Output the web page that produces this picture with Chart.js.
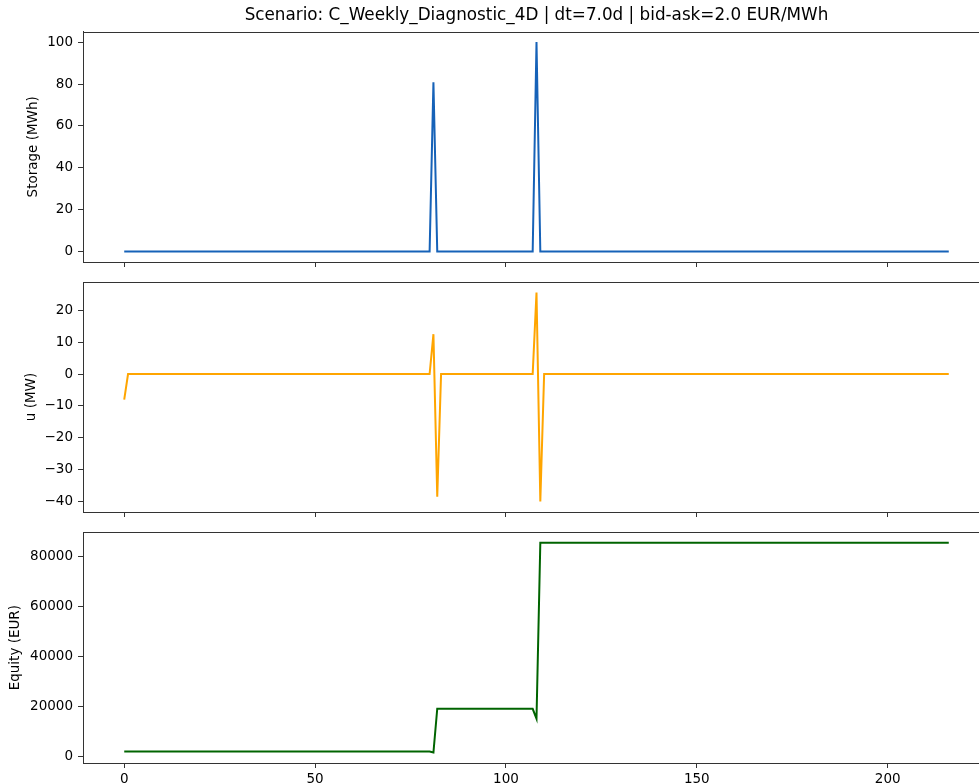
<!DOCTYPE html>
<html>
<head>
<meta charset="utf-8">
<script src="https://cdn.jsdelivr.net/npm/chart.js@4.4.0/dist/chart.umd.min.js"></script>
<style>
html, body { margin: 0; padding: 0; background: #fff; overflow: hidden; }
#fig { position: relative; width: 995px; height: 784px; }
#fig canvas { position: absolute; left: 0; }
</style>
</head>
<body>
<div id="fig">
  <canvas id="storageChart" width="995" height="279" style="top:0px"></canvas>
  <canvas id="uChart" width="995" height="250" style="top:279px"></canvas>
  <canvas id="equityChart" width="995" height="255" style="top:529px"></canvas>
</div>
<script>
const titleText = 'Scenario: C_Weekly_Diagnostic_4D | dt=7.0d | bid-ask=2.0 EUR/MWh';
const xTicks = [0, 50, 100, 150, 200];
const xSpan = [0, 216];

// change points of each series, the line is flat between them
const storageX = [0, 80, 81, 82, 107, 108, 109, 216];
const storageMWh = [0, 0, 80.8, 0, 0, 100, 0, 0];
const storageTicks = [0, 20, 40, 60, 80, 100];

const uX = [0, 1, 80, 81, 82, 83, 107, 108, 109, 110, 216];
const uMW = [-8, 0, 0, 12.5, -38.5, 0, 0, 25.6, -40, 0, 0];
const uTicks = [-40, -30, -20, -10, 0, 10, 20];

const equityX = [0, 80, 81, 82, 107, 108, 109, 216];
const equityEUR = [2000, 2000, 1560, 19080, 19080, 15100, 85560, 85560];
const equityTicks = [0, 20000, 40000, 60000, 80000];

Chart.defaults.font.family = "'DejaVu Sans', sans-serif";
Chart.defaults.color = '#000';

const spine = '#333';

// matplotlib style 5% margins
const padded = (vals) => {
    const lo = Math.min(...vals), hi = Math.max(...vals), m = (hi - lo) * 0.05;
    return { min: lo - m, max: hi + m };
};

const fmt = (v) => (v < 0 ? '\u2212' + Math.abs(v) : String(v));

const framePlugin = {
    id: 'frame',
    afterDraw(chart) {
        const { ctx, chartArea: a } = chart;
        ctx.save();
        ctx.strokeStyle = spine;
        ctx.lineWidth = 1;
        ctx.strokeRect(Math.round(a.left) + 0.5, Math.round(a.top) + 0.5,
            Math.round(a.right - a.left), Math.round(a.bottom - a.top));
        ctx.restore();
    }
};

const makeChart = (id, xs, ys, color, yLabel, yTicks, cfg) => {
    const xr = padded(xSpan);
    const yr = padded(ys);
    return new Chart(document.getElementById(id), {
        type: 'line',
        data: {
            datasets: [{
                data: xs.map((x, i) => ({ x: x, y: ys[i] })),
                borderColor: color,
                borderWidth: 2,
                pointRadius: 0,
                tension: 0,
                fill: false,
            }],
        },
        options: {
            responsive: false,
            animation: false,
            layout: { padding: { left: 0, right: 5, top: cfg.padTop, bottom: 0 } },
            plugins: {
                legend: { display: false },
                tooltip: { enabled: false },
                title: cfg.title ? {
                    display: true,
                    text: cfg.title,
                    fullSize: false,
                    font: { size: 16.8, weight: 'normal' },
                    color: '#000',
                    padding: { top: 6, bottom: 5.5 },
                } : { display: false },
            },
            scales: {
                x: {
                    type: 'linear',
                    min: xr.min,
                    max: xr.max,
                    afterBuildTicks: (s) => { s.ticks = xTicks.map(v => ({ value: v })); },
                    afterFit: (s) => {
                        s.height = cfg.xHeight;
                        s.paddingLeft = 0;
                        s.paddingRight = 0;
                    },
                    grid: { drawOnChartArea: false, drawTicks: true, tickLength: 5, color: spine },
                    border: { display: true, color: spine, width: 1 },
                    ticks: {
                        display: cfg.showX,
                        padding: 3,
                        maxRotation: 0,
                        autoSkip: false,
                        font: { size: 13.5 },
                        callback: fmt,
                    },
                },
                y: {
                    min: yr.min,
                    max: yr.max,
                    afterBuildTicks: (s) => { s.ticks = yTicks.map(v => ({ value: v })); },
                    afterFit: (s) => {
                        s.width = 83;
                        s.paddingTop = 0;
                        s.paddingBottom = 0;
                    },
                    grid: { drawOnChartArea: false, drawTicks: true, tickLength: 5, color: spine },
                    border: { display: true, color: spine, width: 1 },
                    ticks: { padding: 5, font: { size: 13.5 }, callback: fmt },
                    title: {
                        display: true,
                        text: yLabel,
                        font: { size: 13.5 },
                        color: '#000',
                        padding: { top: cfg.labelPad, bottom: 0 },
                    },
                },
            },
        },
        plugins: [framePlugin],
    });
};

makeChart('storageChart', storageX, storageMWh, '#1662b8', 'Storage (MWh)', storageTicks,
    { padTop: 0, xHeight: 17, showX: false, labelPad: 25, title: titleText });
makeChart('uChart', uX, uMW, '#ffa500', 'u (MW)', uTicks,
    { padTop: 3, xHeight: 17, showX: false, labelPad: 23.5 });
makeChart('equityChart', equityX, equityEUR, '#006400', 'Equity (EUR)', equityTicks,
    { padTop: 3.3, xHeight: 21, showX: true, labelPad: 7 });
</script>
</body>
</html>
